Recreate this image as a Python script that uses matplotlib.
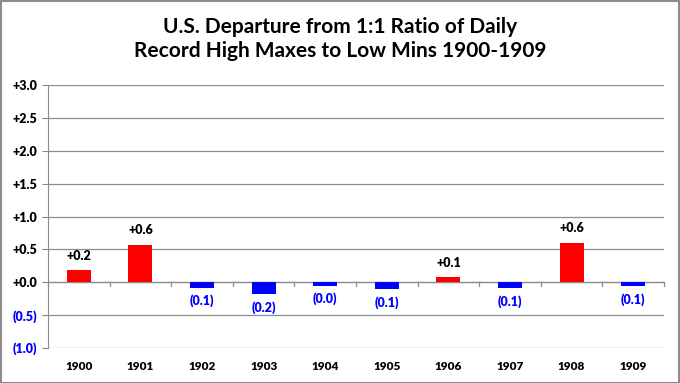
import matplotlib
matplotlib.use("Agg")
import matplotlib.pyplot as plt
from matplotlib.patches import Rectangle

years = ["1900", "1901", "1902", "1903", "1904", "1905", "1906", "1907", "1908", "1909"]
values = [0.18, 0.57, -0.08, -0.18, -0.05, -0.10, 0.08, -0.09, 0.60, -0.055]
labels = ["+0.2", "+0.6", "(0.1)", "(0.2)", "(0.0)", "(0.1)", "+0.1", "(0.1)", "+0.6", "(0.1)"]
yticks = [-1.0, -0.5, 0.0, 0.5, 1.0, 1.5, 2.0, 2.5, 3.0]
ytick_labels = ["(1.0)", "(0.5)", "+0.0", "+0.5", "+1.0", "+1.5", "+2.0", "+2.5", "+3.0"]
title = "U.S. Departure from 1:1 Ratio of Daily\nRecord High Maxes to Low Mins 1900-1909"

plt.rcParams['font.family'] = ['Lato', 'DejaVu Sans']

W, H = 680, 383
fig = plt.figure(figsize=(W/100, H/100), dpi=100)
ax = fig.add_axes([48/W, 1-348/H, (664-48)/W, (348-85)/H])

x = list(range(len(years)))
colors = ['#ff0000' if v >= 0 else '#0000ff' for v in values]
ax.bar(x, values, width=0.39, color=colors, zorder=3)

ax.set_xlim(-0.5, len(years)-0.5)
ax.set_ylim(-1.0, 3.0)
ax.set_yticks(yticks)
ax.set_yticklabels(ytick_labels, fontweight='heavy', fontsize=9)
for t, v in zip(ax.get_yticklabels(), yticks):
    t.set_color('#0000ff' if v < 0 else 'black')
ax.tick_params(axis='y', length=4, color='#888888', pad=4)
ax.set_xticks([])
ax.grid(axis='y', color='#8c8c8c', linewidth=0.9, zorder=0)
for s in ['top', 'right', 'bottom']:
    ax.spines[s].set_visible(False)
ax.spines['left'].set_color('#8c8c8c')
ax.axhline(0, color='#8c8c8c', linewidth=0.9, zorder=2)

# category separator ticks under the zero line
for b in [i + 0.5 for i in range(-1, len(years))]:
    ax.plot([b, b], [0, -0.06], color='#8c8c8c', linewidth=0.9, zorder=2, clip_on=False)

for xi, v, lab in zip(x, values, labels):
    if v >= 0:
        ax.annotate(lab, (xi, v), xytext=(0, 6), textcoords='offset points',
                    ha='center', va='bottom', fontsize=9, fontweight='heavy', color='black')
    else:
        ax.annotate(lab, (xi, v), xytext=(0, -5), textcoords='offset points',
                    ha='center', va='top', fontsize=9, fontweight='heavy', color='#0000ff')

for xi, yr in zip(x, years):
    ax.annotate(yr, (xi, -1.0), xytext=(0, -13), textcoords='offset points',
                ha='center', va='center', fontsize=8.5, fontweight='heavy')

fig.text(0.5, 1-39/H, title, ha='center', va='center', fontsize=15, fontweight='bold',
         linespacing=1.25)

fig.patches.append(Rectangle((0.5/W, 0.5/H), 1-1.5/W, 1-1.5/H, transform=fig.transFigure,
                             fill=False, edgecolor='#8c8c8c', linewidth=1.5))

fig.savefig("out.png", dpi=100)
